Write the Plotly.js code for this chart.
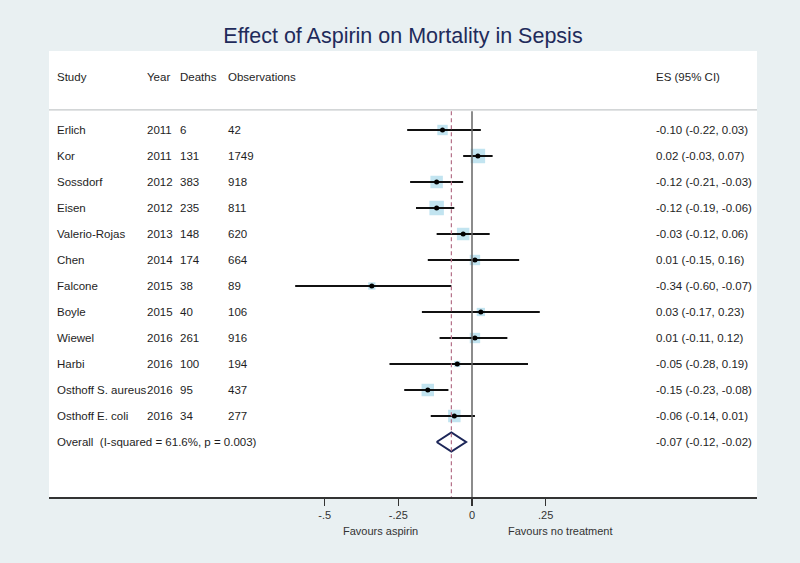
<!DOCTYPE html>
<html>
<head>
<meta charset="utf-8">
<script src="https://cdn.plot.ly/plotly-3.0.1.min.js"></script>
<style>html,body{margin:0;padding:0;background:#e9f0f2;}#chart{width:800px;height:563px;}</style>
</head>
<body>
<div id="chart"></div>
<script>
// ---- data ----
const studies = ['Erlich','Kor','Sossdorf','Eisen','Valerio-Rojas','Chen','Falcone','Boyle','Wiewel','Harbi','Osthoff S. aureus','Osthoff E. coli'];
const years = [2011,2011,2012,2012,2013,2014,2015,2015,2016,2016,2016,2016];
const deaths = [6,131,383,235,148,174,38,40,261,100,95,34];
const observations = [42,1749,918,811,620,664,89,106,916,194,437,277];
const es = [-0.10,0.02,-0.12,-0.12,-0.03,0.01,-0.34,0.03,0.01,-0.05,-0.15,-0.06];
const ciLow = [-0.22,-0.03,-0.21,-0.19,-0.12,-0.15,-0.60,-0.17,-0.11,-0.28,-0.23,-0.14];
const ciHigh = [0.03,0.07,-0.03,-0.06,0.06,0.16,-0.07,0.23,0.12,0.19,-0.08,0.01];
const weights = [7.1,13.8,10.2,13.8,10.2,7.1,3.5,4.5,7.1,2.5,10.2,10.2]; // % weight
const overallES = [-0.07];
const overallLow = [-0.12];
const overallHigh = [-0.02];
const iSquared = 61.6;
const pValue = '0.003';
const tickVals = [-0.5,-0.25,0,0.25];
const tickText = ['-.5','-.25','0','.25'];
const headers = ['Study','Year','Deaths','Observations','ES (95% CI)'];
const favourLabels = ['Favours aspirin','Favours no treatment'];

// ---- layout helpers ----
const W = 800, H = 563, ML = 49, MR = 43, MT = 51, MB = 66;
const PW = W - ML - MR, PH = H - MT - MB;
const px = x => (x - ML) / PW;
const rows = studies.map((s, i) => i);
const overallRow = studies.length;
const headerRow = -2.04, ruleRow = -0.77;
const yBottom = 14.115, yTop = -3.038;
const fmt = v => v.toFixed(2);

const txtFont = {family: 'Arial, "Liberation Sans", sans-serif', size: 11.5, color: '#1e1e1e'};
const colX = [px(55), px(145), px(178), px(226), px(654)];

const ann = [];
headers.forEach((h, j) => ann.push({xref:'paper', yref:'y', x: colX[j], y: headerRow, text: h, showarrow:false, xanchor:'left', yanchor:'middle', font: txtFont}));
rows.forEach(i => {
  const cells = [studies[i], String(years[i]), String(deaths[i]), String(observations[i]), `${fmt(es[i])} (${fmt(ciLow[i])}, ${fmt(ciHigh[i])})`];
  cells.forEach((c, j) => ann.push({xref:'paper', yref:'y', x: colX[j], y: rows[i], text: c, showarrow:false, xanchor:'left', yanchor:'middle', font: txtFont}));
});
ann.push({xref:'paper', yref:'y', x: colX[0], y: overallRow, text: `Overall  (I-squared = ${iSquared}%, p = ${pValue})`, showarrow:false, xanchor:'left', yanchor:'middle', font: txtFont});
ann.push({xref:'paper', yref:'y', x: colX[4], y: overallRow, text: `${fmt(overallES[0])} (${fmt(overallLow[0])}, ${fmt(overallHigh[0])})`, showarrow:false, xanchor:'left', yanchor:'middle', font: txtFont});
ann.push({xref:'x', yref:'paper', x: -0.312, y: -0.076, text: favourLabels[0], showarrow:false, xanchor:'center', yanchor:'middle', font: {family: txtFont.family, size: 11, color: '#333'}});
ann.push({xref:'x', yref:'paper', x: 0.30, y: -0.076, text: favourLabels[1], showarrow:false, xanchor:'center', yanchor:'middle', font: {family: txtFont.family, size: 11, color: '#333'}});

const boxes = {
  type: 'scatter', mode: 'markers', x: es, y: rows,
  marker: {symbol: 'square', color: '#a8d8ea', size: weights.map(w => 3.9 * Math.sqrt(w)), line: {width: 0}},
  hoverinfo: 'skip'
};
const points = {
  type: 'scatter', mode: 'markers', x: es, y: rows,
  marker: {symbol: 'circle', color: '#000', size: 5},
  error_x: {type: 'data', symmetric: false, array: es.map((v, i) => ciHigh[i] - v), arrayminus: es.map((v, i) => v - ciLow[i]), color: '#111', thickness: 2, width: 0},
  hoverinfo: 'skip'
};
const dh = 0.37;
const diamond = {
  type: 'scatter', mode: 'lines',
  x: [overallLow[0], overallES[0], overallHigh[0], overallES[0], overallLow[0]],
  y: [overallRow, overallRow - dh, overallRow, overallRow + dh, overallRow],
  line: {color: '#1c2658', width: 2}, hoverinfo: 'skip'
};

const layout = {
  width: W, height: H,
  margin: {l: ML, r: MR, t: MT, b: MB},
  paper_bgcolor: '#e9f0f2', plot_bgcolor: '#ffffff',
  showlegend: false,
  title: {text: 'Effect of Aspirin on Mortality in Sepsis', x: 0.5, xref: 'paper', y: (H - 35) / H, yref: 'container', yanchor: 'middle', xanchor: 'center',
          font: {family: 'Arial, "Liberation Sans", sans-serif', size: 21.5, color: '#1f2b5b'}},
  xaxis: {range: [(ML - 472) / 294.7, (W - MR - 472) / 294.7], showgrid: false, zeroline: false,
          showline: true, linecolor: '#333', linewidth: 1.5, ticks: 'outside', ticklen: 7, tickwidth: 1.3, tickcolor: '#333',
          tickvals: tickVals, ticktext: tickText, tickfont: {family: 'Arial, "Liberation Sans", sans-serif', size: 11, color: '#333'}, fixedrange: true},
  yaxis: {range: [yBottom, yTop], showgrid: false, zeroline: false, showline: false, showticklabels: false, ticks: '', fixedrange: true},
  shapes: [
    {type: 'line', xref: 'paper', yref: 'y', x0: 0, x1: 1, y0: ruleRow, y1: ruleRow, line: {color: '#c4c8ca', width: 1.3}},
    {type: 'line', xref: 'x', yref: 'y', x0: 0, x1: 0, y0: ruleRow + 0.05, y1: yBottom, line: {color: '#666', width: 1.5}},
    {type: 'line', xref: 'x', yref: 'y', x0: overallES[0], x1: overallES[0], y0: ruleRow + 0.05, y1: yBottom, line: {color: '#b47088', width: 1.2, dash: '4px,3px'}}
  ],
  annotations: ann
};

Plotly.newPlot('chart', [boxes, points, diamond], layout, {displayModeBar: false, staticPlot: true});
</script>
</body>
</html>
